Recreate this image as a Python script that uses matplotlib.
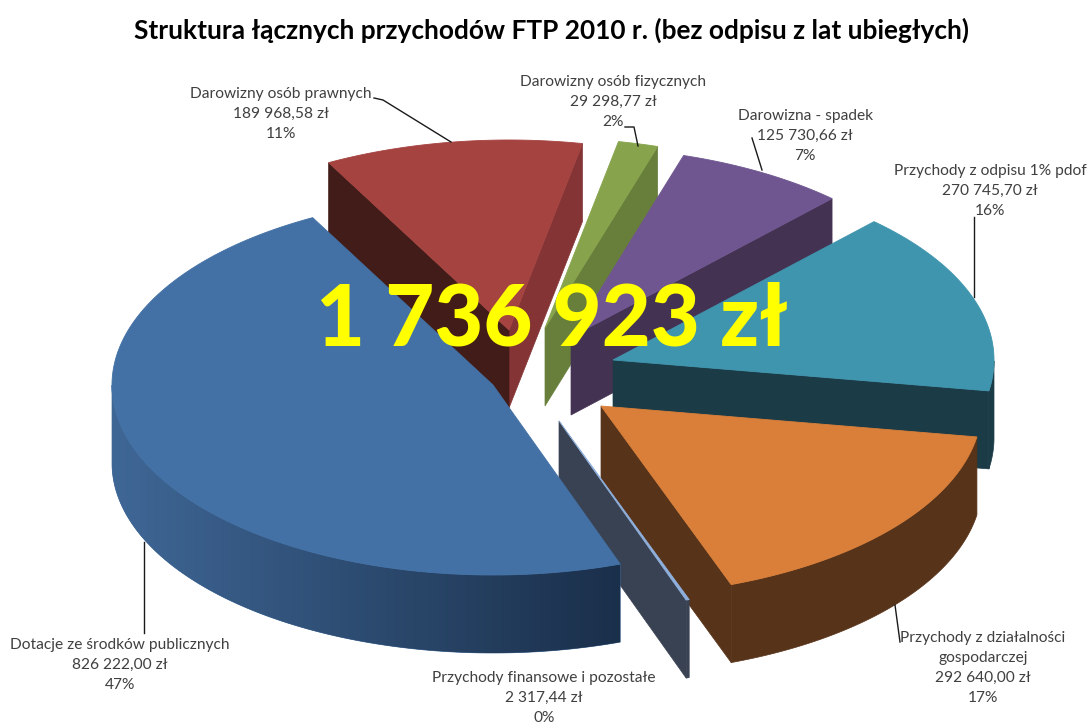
import numpy as np
import matplotlib
matplotlib.use("Agg")
import matplotlib.pyplot as plt
from matplotlib.colors import to_rgb, LinearSegmentedColormap

# ---- data ----
title = "Struktura łącznych przychodów FTP 2010 r. (bez odpisu z lat ubiegłych)"
total_label = "1 736 923 zł"
categories = ["Dotacje ze środków publicznych", "Darowizny osób prawnych",
              "Darowizny osób fizycznych", "Darowizna - spadek",
              "Przychody z odpisu 1% pdof", "Przychody z działalności\ngospodarczej",
              "Przychody finansowe i pozostałe"]
values = [826222.00, 189968.58, 29298.77, 125730.66, 270745.70, 292640.00, 2317.44]
percent_labels = [47, 11, 2, 7, 16, 17, 0]

# ---- style ----
top_colors = ["#4371A5", "#A54341", "#87A44C", "#6F5690", "#3F95AE", "#D97F39", "#8FB0DC"]
low_wall = ["#3C6291", "#843434", "#687F3B", "#443253", "#1B3B47", "#57331A", "#394252"]
high_wall = ["#3C6291", "#421C18", "#687F3B", "#443253", "#1B3B47", "#57331A", "#394252"]
outer_from = ["#3F6796", "#843434", "#687F3B", "#443253", "#1B3B47", "#57331A", "#394252"]
outer_to = ["#1A2F4A", "#843434", "#687F3B", "#443253", "#1B3B47", "#57331A", "#394252"]

# ---- layout (pixels) ----
W, H = 1089, 725
RX, RY, DEPTH = 381, 190, 78
START = -70.5
CENTER = (530, 372)
PULL_X = [-37, -21, 15, 41, 83, 71, 29]   # how far each slice is pulled out
PULL_Y = [13, -42, -44, -35, -12, 34, 49]
DRAW_ORDER = [1, 2, 3, 4, 5, 6, 0]
LABEL_XY = [(120, 665), (281, 114), (613, 102), (805, 136), (990, 191), (983, 668), (544, 698)]
LEADERS = [[(144, 542), (144, 633)],
           [(374, 98), (383, 100), (451, 142)],
           [(625, 127), (634, 127), (638, 146)],
           [(752, 138), (762, 170)],
           [(974, 217), (974, 297)],
           [(895, 605), (900, 642)]]

plt.rcParams["font.family"] = ["Lato", "DejaVu Sans"]
fig = plt.figure(figsize=(W / 100, H / 100), dpi=100)
ax = fig.add_axes([0, 0, 1, 1])

vals = np.array(values)
bounds = START - 360 * np.concatenate([[0], np.cumsum(vals)]) / vals.sum()


def rim(ax_, ay_, deg):
    r = np.radians(deg)
    return ax_ + RX * np.cos(r), ay_ - RY * np.sin(r)


z = 1
for i in DRAW_ORDER:
    hi, lo = bounds[i], bounds[i + 1]
    ax_, ay_ = CENTER[0] + PULL_X[i], CENTER[1] + PULL_Y[i]
    # radial walls, only those turned to the viewer
    for ang, col, visible in ((lo, low_wall[i], np.cos(np.radians(lo)) > 0),
                              (hi, high_wall[i], np.cos(np.radians(hi)) < 0)):
        if visible:
            x, y = rim(ax_, ay_, ang)
            ax.fill([ax_, x, x, ax_], [ay_, y, y + DEPTH, ay_ + DEPTH],
                    color=col, lw=0.5, zorder=z)
    # outer wall, shaded across its width
    t = np.linspace(lo, hi, max(int((hi - lo) * 2), 4))
    t = t[np.sin(np.radians(t)) <= 0]
    if len(t) > 1:
        xs, ys = rim(ax_, ay_, t)
        order = np.argsort(xs)
        xs, ys = xs[order], ys[order]
        poly = ax.fill(np.r_[xs, xs[::-1]], np.r_[ys, ys[::-1] + DEPTH],
                       color=outer_from[i], lw=0.5, zorder=z)[0]
        if outer_from[i] != outer_to[i]:
            cmap = LinearSegmentedColormap.from_list("wall", [to_rgb(outer_from[i]), to_rgb(outer_to[i])])
            im = ax.imshow(np.linspace(0, 1, 256)[None, :], cmap=cmap, aspect="auto",
                           extent=(xs[0], xs[-1], ys.max() + DEPTH, ys.min()), zorder=z + 0.1)
            im.set_clip_path(poly)
    # top face
    t = np.linspace(lo, hi, max(int(hi - lo) * 2, 3))
    xs, ys = rim(ax_, ay_, t)
    ax.fill(np.r_[ax_, xs], np.r_[ay_, ys], color=top_colors[i], lw=0.6, zorder=z + 0.5)
    z += 1

ax.set_xlim(0, W)
ax.set_ylim(H, 0)
ax.axis("off")

for pts in LEADERS:
    p = np.array(pts)
    ax.plot(p[:, 0], p[:, 1], color="#1a1a1a", lw=1.0, zorder=20)

for cat, v, pc, (lx, ly) in zip(categories, values, percent_labels, LABEL_XY):
    amount = f"{v:,.2f}".replace(",", " ").replace(".", ",") + " zł"
    ax.text(lx, ly, f"{cat}\n{amount}\n{pc}%", ha="center", va="center",
            fontsize=11.2, color="#404040", linespacing=1.52, zorder=21)

ax.text(552, 30, title, ha="center", va="center", fontsize=18.95,
        fontweight="bold", color="black", zorder=21)
ax.text(552, 345, total_label, ha="center", va="baseline", fontsize=61,
        fontweight="black", color="#FFFF00", zorder=22)

fig.savefig("out.png", dpi=100)
